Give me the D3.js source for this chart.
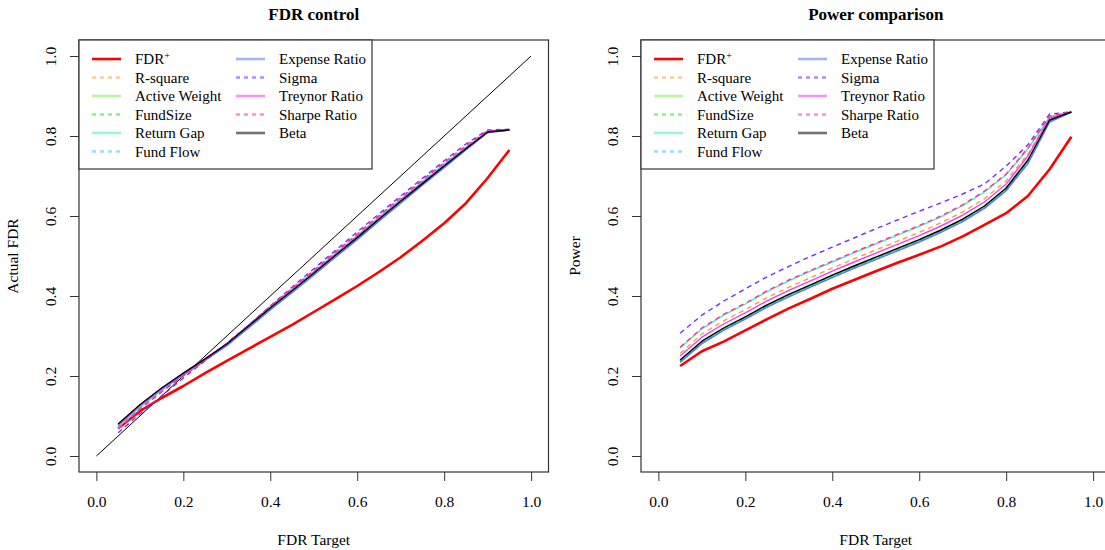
<!DOCTYPE html>
<html><head><meta charset="utf-8">
<script src="https://cdn.jsdelivr.net/npm/d3@7"></script>
<style>
body{margin:0;background:#fff;}
text{font-family:"Liberation Serif","Times New Roman",serif;fill:#000;}
</style></head>
<body><svg id="c" width="1105" height="550"></svg>
<script>
const fdrTarget = [0.05,0.10,0.15,0.20,0.25,0.30,0.35,0.40,0.45,0.50,0.55,0.60,0.65,0.70,0.75,0.80,0.85,0.90,0.95];
const tickValues = [0,0.2,0.4,0.6,0.8,1.0];
const seriesNames = ["FDR+","R-square","Active Weight","FundSize","Return Gap","Fund Flow","Expense Ratio","Sigma","Treynor Ratio","Sharpe Ratio","Beta"];
const seriesColors = ["#ff0000","#f5a040","#80ee50","#22ee22","#50e8c8","#40bfff","#5577ff","#7a30f0","#f040f0","#ff3399","#000000"];
const seriesDashed = [false,true,false,true,false,true,false,true,false,true,false];

// FDR control panel (Actual FDR)
const fdrFDRplus   = [0.069,0.112,0.145,0.175,0.207,0.238,0.268,0.298,0.328,0.360,0.392,0.425,0.460,0.497,0.538,0.582,0.632,0.695,0.765];
const fdrRsquare   = [0.068,0.118,0.161,0.201,0.240,0.280,0.327,0.373,0.418,0.463,0.508,0.553,0.599,0.644,0.688,0.732,0.774,0.813,0.816];
const fdrActive    = [0.077,0.126,0.168,0.205,0.241,0.279,0.323,0.368,0.411,0.455,0.500,0.544,0.590,0.635,0.679,0.723,0.766,0.809,0.815];
const fdrFundSize  = [0.075,0.124,0.166,0.204,0.241,0.279,0.324,0.369,0.413,0.457,0.502,0.547,0.592,0.637,0.681,0.725,0.768,0.810,0.815];
const fdrReturnGap = [0.072,0.121,0.164,0.203,0.241,0.280,0.326,0.372,0.416,0.461,0.506,0.551,0.597,0.642,0.686,0.730,0.772,0.812,0.816];
const fdrFundFlow  = [0.071,0.120,0.163,0.202,0.240,0.280,0.326,0.372,0.417,0.461,0.506,0.551,0.597,0.642,0.686,0.730,0.772,0.812,0.816];
const fdrExpense   = [0.078,0.126,0.167,0.203,0.239,0.276,0.320,0.365,0.408,0.452,0.497,0.541,0.587,0.632,0.677,0.721,0.765,0.808,0.815];
const fdrSigma     = [0.058,0.105,0.150,0.195,0.238,0.282,0.327,0.375,0.422,0.468,0.514,0.560,0.605,0.650,0.694,0.738,0.780,0.815,0.817];
const fdrTreynor   = [0.076,0.126,0.168,0.206,0.243,0.281,0.326,0.372,0.415,0.459,0.504,0.549,0.594,0.639,0.683,0.727,0.770,0.811,0.815];
const fdrSharpe    = [0.068,0.117,0.160,0.200,0.240,0.281,0.327,0.374,0.419,0.464,0.510,0.555,0.601,0.646,0.690,0.734,0.776,0.813,0.816];
const fdrBeta      = [0.080,0.128,0.170,0.207,0.243,0.280,0.325,0.370,0.413,0.457,0.502,0.546,0.592,0.637,0.681,0.725,0.768,0.810,0.815];

// Power comparison panel
const powFDRplus   = [0.225,0.262,0.286,0.314,0.342,0.369,0.393,0.418,0.440,0.462,0.483,0.503,0.524,0.549,0.578,0.607,0.650,0.717,0.798];
const powRsquare   = [0.256,0.305,0.338,0.366,0.396,0.422,0.446,0.470,0.493,0.515,0.537,0.559,0.583,0.610,0.643,0.688,0.755,0.846,0.860];
const powActive    = [0.237,0.284,0.317,0.345,0.375,0.401,0.425,0.449,0.472,0.494,0.516,0.538,0.562,0.589,0.622,0.666,0.735,0.838,0.860];
const powFundSize  = [0.238,0.285,0.318,0.346,0.376,0.402,0.426,0.450,0.473,0.495,0.517,0.539,0.563,0.590,0.623,0.668,0.737,0.839,0.860];
const powReturnGap = [0.270,0.318,0.352,0.380,0.411,0.438,0.462,0.485,0.508,0.530,0.552,0.574,0.598,0.626,0.660,0.703,0.768,0.848,0.860];
const powFundFlow  = [0.235,0.282,0.315,0.343,0.373,0.399,0.423,0.447,0.470,0.492,0.514,0.536,0.560,0.587,0.620,0.664,0.732,0.836,0.860];
const powExpense   = [0.234,0.281,0.314,0.342,0.372,0.398,0.422,0.446,0.469,0.491,0.513,0.535,0.559,0.586,0.619,0.663,0.731,0.835,0.860];
const powSigma     = [0.307,0.352,0.387,0.418,0.448,0.474,0.499,0.522,0.545,0.568,0.590,0.612,0.633,0.655,0.680,0.725,0.778,0.855,0.860];
const powTreynor   = [0.250,0.297,0.330,0.358,0.388,0.414,0.438,0.462,0.485,0.507,0.529,0.551,0.575,0.602,0.635,0.680,0.750,0.845,0.860];
const powSharpe    = [0.272,0.320,0.354,0.382,0.413,0.440,0.464,0.487,0.510,0.532,0.554,0.576,0.600,0.628,0.662,0.705,0.770,0.850,0.860];
const powBeta      = [0.240,0.287,0.320,0.348,0.378,0.404,0.428,0.452,0.475,0.497,0.519,0.541,0.565,0.592,0.625,0.670,0.740,0.840,0.860];

const diagonal = [[0,0],[1,1]];

const fdrSeries = [fdrFDRplus,fdrRsquare,fdrActive,fdrFundSize,fdrReturnGap,fdrFundFlow,fdrExpense,fdrSigma,fdrTreynor,fdrSharpe,fdrBeta];
const powSeries = [powFDRplus,powRsquare,powActive,powFundSize,powReturnGap,powFundFlow,powExpense,powSigma,powTreynor,powSharpe,powBeta];

const svg = d3.select("#c");
const fmt = d3.format(".1f");

function panel(opts){
  const x = d3.scaleLinear().domain([-0.04,1.04]).range([opts.left, opts.left+469.5]);
  const y = d3.scaleLinear().domain([-0.04,1.04]).range([472,40]);
  const g = svg.append("g");

  // axes
  const xa = g.append("g").attr("transform","translate(0,472)")
    .call(d3.axisBottom(x).tickValues(tickValues).tickSize(9).tickPadding(15).tickFormat(fmt));
  xa.select(".domain").remove();
  xa.selectAll(".tick line").attr("stroke","#333");
  xa.selectAll("text").attr("font-size",15.5).attr("font-family","Liberation Serif").attr("fill","#000");

  const ya = g.append("g").attr("transform",`translate(${opts.left},0)`)
    .call(d3.axisLeft(y).tickValues(tickValues).tickSize(9).tickFormat(fmt));
  ya.select(".domain").remove();
  ya.selectAll(".tick line").attr("stroke","#333");
  ya.selectAll("text").attr("x",null).attr("dy","0.35em")
    .attr("transform","translate(-28,0) rotate(-90)")
    .attr("text-anchor","middle").attr("font-size",15.5).attr("font-family","Liberation Serif").attr("fill","#000");

  const line = d3.line().x((d,i)=>x(fdrTarget[i])).y(d=>y(d));
  if(opts.diag){
    g.append("path").datum(diagonal)
      .attr("d", d3.line().x(d=>x(d[0])).y(d=>y(d[1])))
      .attr("fill","none").attr("stroke","#000").attr("stroke-width",1);
  }
  opts.series.forEach((s,k)=>{
    g.append("path").datum(s).attr("d",line).attr("fill","none")
      .attr("stroke",seriesColors[k])
      .attr("stroke-width", k===0?2.6:1.4)
      .attr("stroke-dasharray", seriesDashed[k]?"5,4":null)
      .attr("stroke-linejoin","round");
  });

  // box
  g.append("rect").attr("x",opts.left).attr("y",40).attr("width",469.5).attr("height",432)
    .attr("fill","none").attr("stroke","#333").attr("stroke-width",1.2);

  // legend
  const L = opts.left;
  const lg = g.append("g");
  lg.append("rect").attr("x",L).attr("y",40).attr("width",293).attr("height",129)
    .attr("fill","#fff").attr("stroke","#333").attr("stroke-width",1.2);
  seriesNames.forEach((n,k)=>{
    const col = k<6?0:1;
    const row = k<6?k:k-6;
    const yy = 59 + row*18.5;
    const x0 = L + (col===0?13:157);
    lg.append("line").attr("x1",x0).attr("x2",x0+29).attr("y1",yy).attr("y2",yy)
      .attr("stroke",seriesColors[k]).attr("stroke-width",2.6)
      .attr("stroke-opacity", k===0?1:0.55)
      .attr("stroke-dasharray", seriesDashed[k]?"4,4":null);
    const t = lg.append("text").attr("x",x0+43).attr("y",yy).attr("dy","0.35em")
      .attr("font-size",15);
    if(n==="FDR+"){
      t.text("FDR");
      t.append("tspan").attr("dy","-0.55em").attr("font-size",10).text("+");
    } else t.text(n);
  });

  // titles
  const cx = opts.left + 469.5/2;
  g.append("text").attr("x",cx).attr("y",20).attr("text-anchor","middle")
    .attr("font-size",17).attr("font-weight","bold").text(opts.title);
  g.append("text").attr("x",cx).attr("y",545).attr("text-anchor","middle")
    .attr("font-size",15.5).text("FDR Target");
  g.append("text").attr("transform",`translate(${opts.left-61},256) rotate(-90)`)
    .attr("text-anchor","middle").attr("font-size",15.5).text(opts.ylab);
}

panel({left:79, title:"FDR control", ylab:"Actual FDR", series:fdrSeries, diag:true});
panel({left:641, title:"Power comparison", ylab:"Power", series:powSeries, diag:false});
</script></body></html>
